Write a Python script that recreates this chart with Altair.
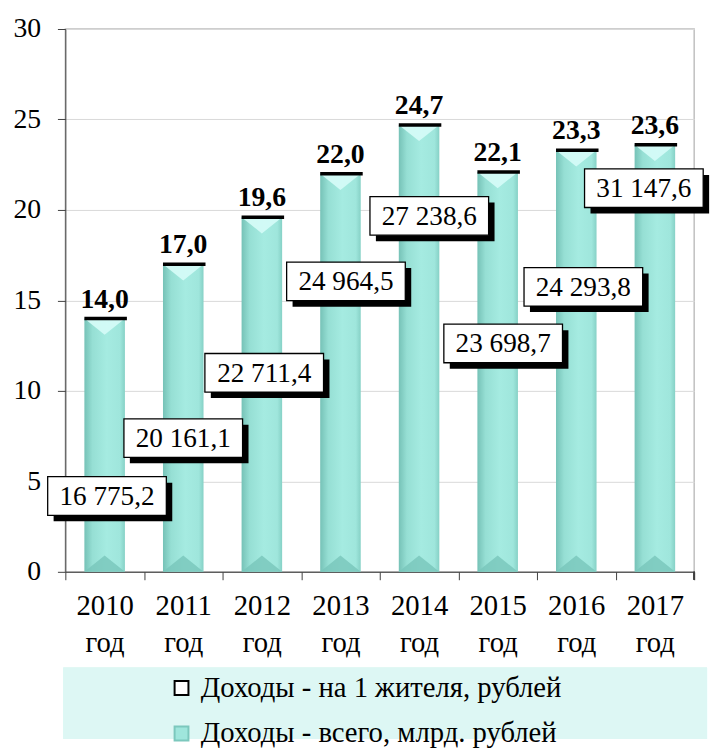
import altair as alt
import pandas as pd

years = ["2010", "2011", "2012", "2013", "2014", "2015", "2016", "2017"]
total_bln = [14.0, 17.0, 19.6, 22.0, 24.7, 22.1, 23.3, 23.6]
per_capita = [16775.2, 20161.1, 22711.4, 24964.5, 27238.6, 23698.7, 24293.8, 31147.6]
# where the boxed per-capita labels sit (in axis units)
label_level = [4.19, 7.39, 11.0, 16.05, 19.67, 12.62, 15.75, 21.2]
label_pos = [0.53, 1.5, 2.53, 3.57, 4.63, 5.57, 6.59, 7.36]

S_CAP = "Доходы - на 1 жителя, рублей"
S_TOT = "Доходы - всего, млрд. рублей"

bars_df = pd.DataFrame({
    "year": [y + " год" for y in years],
    "total": total_bln,
    "lab": [f"{v:.1f}".replace(".", ",") for v in total_bln],
    "zero": [0.0] * len(years),
})
box_df = pd.DataFrame({
    "pos": label_pos,
    "lvl": label_level,
    "txt": [f"{v:,.1f}".replace(",", " ").replace(".", ",") for v in per_capita],
    "series": [S_CAP] * len(years),
})

W, H = 636, 549
FONT = "Liberation Serif"

xband = alt.X("year:N", sort=None, title=None,
              scale=alt.Scale(paddingInner=0.0, paddingOuter=0.0),
              axis=alt.Axis(labelExpr="split(datum.label, ' ')", labelAngle=0,
                            labelFont=FONT, labelFontSize=29, labelColor="black",
                            labelLineHeight=38, labelPadding=12,
                            tickBand="extent", tickSize=8, tickColor="#404040",
                            domainColor="#404040", grid=False))
yscale = alt.Scale(domain=[0, 30])
yaxis = alt.Axis(values=[0, 5, 10, 15, 20, 25, 30], labelFont=FONT,
                 labelExpr="[datum.label, '']", labelLineHeight=1,
                 labelFontSize=28, labelColor="black", labelPadding=17,
                 tickSize=8, tickColor="#404040", domainColor="#404040",
                 gridColor="#D9D9D9")


def yenc(field):
    return alt.Y(field, scale=yscale, title=None, axis=yaxis)


grad = alt.Gradient(
    gradient="linear", x1=0, x2=1, y1=0, y2=0,
    stops=[
        alt.GradientStop(color="#76C2B7", offset=0),
        alt.GradientStop(color="#96DFD4", offset=0.2),
        alt.GradientStop(color="#A5EBE1", offset=0.55),
        alt.GradientStop(color="#9FE6DC", offset=0.88),
        alt.GradientStop(color="#86D1C6", offset=1),
    ],
)

base = alt.Chart(bars_df).transform_calculate(labl="[datum.lab, '']")
bars = base.mark_bar(size=41, fill=grad).encode(x=xband, y=yenc("total:Q"))
top_tri = base.mark_point(shape="M-1,0L1,0L0,0.8Z", size=1681, filled=True,
                          fill="#D4FBF7", opacity=0.95, strokeWidth=0).encode(
    x=xband, y=yenc("total:Q"))
bot_tri = base.mark_point(shape="M-1,0L1,0L0,-0.8Z", size=1681, filled=True,
                          fill="#78C6BA", opacity=0.8, strokeWidth=0).encode(
    x=xband, y=yenc("zero:Q"))
caps = base.mark_tick(size=43, thickness=3.5, color="black", opacity=1, xOffset=1).encode(
    x=xband, y=yenc("total:Q"))
bar_labels = base.mark_text(font=FONT, fontSize=28, fontWeight="bold", lineHeight=1,
                            color="black", dy=-11, baseline="alphabetic").encode(
    x=xband, y=yenc("total:Q"), text="labl:N")
end_tick = base.mark_rule(color="#404040").encode(
    x=alt.value(W), y=alt.value(H), y2=alt.value(H + 8))

band_layer = alt.layer(bars, bot_tri, top_tri, caps, bar_labels, end_tick)

BOX = "M-1,-0.325L1,-0.325L1,0.325L-1,0.325Z"
xq = alt.X("pos:Q", scale=alt.Scale(domain=[0, 8], nice=False, zero=False), axis=None)
yq = yenc("lvl:Q")
bbase = alt.Chart(box_df).transform_calculate(txtl="[datum.txt, '']")
shadow = bbase.mark_point(shape=BOX, size=14400, filled=True, fill="black",
                          strokeWidth=0, opacity=1, xOffset=6, yOffset=6).encode(x=xq, y=yq)
leg = alt.Legend(title=None, orient="none", legendX=103, legendY=652,
                 symbolType="square", symbolSize=196, symbolStrokeWidth=2,
                 labelFont=FONT, labelFontSize=29, labelColor="black",
                 labelOffset=5, rowPadding=16, padding=0, labelLimit=600)
boxes = bbase.mark_point(size=14400, shape=BOX, filled=True, strokeWidth=1.3,
                         opacity=1).encode(
    x=xq, y=yq,
    fill=alt.Fill("series:N", scale=alt.Scale(domain=[S_CAP, S_TOT], range=["white", "#9FE6DC"]), legend=leg),
    stroke=alt.Stroke("series:N", scale=alt.Scale(domain=[S_CAP, S_TOT], range=["black", "#7CC8BD"]), legend=leg),
)
box_text = bbase.mark_text(font=FONT, fontSize=27.5, color="black", baseline="middle",
                           lineHeight=1, dy=1).encode(
    x=xq, y=yq, text="txtl:N")

legend_bg = bbase.mark_rect(fill="#DDF7F4").encode(
    x=alt.value(-2), x2=alt.value(649), y=alt.value(646), y2=alt.value(718))

box_layer = alt.layer(legend_bg, shadow, boxes, box_text)

chart = alt.layer(band_layer, box_layer).resolve_scale(x="independent").properties(
    width=W, height=H, padding={"left": 5, "top": 3, "right": 0, "bottom": 0}
).configure_view(stroke="#BFBFBF", strokeWidth=1.5)

chart.save("out.html", embed_options={"renderer": "svg", "actions": False})
